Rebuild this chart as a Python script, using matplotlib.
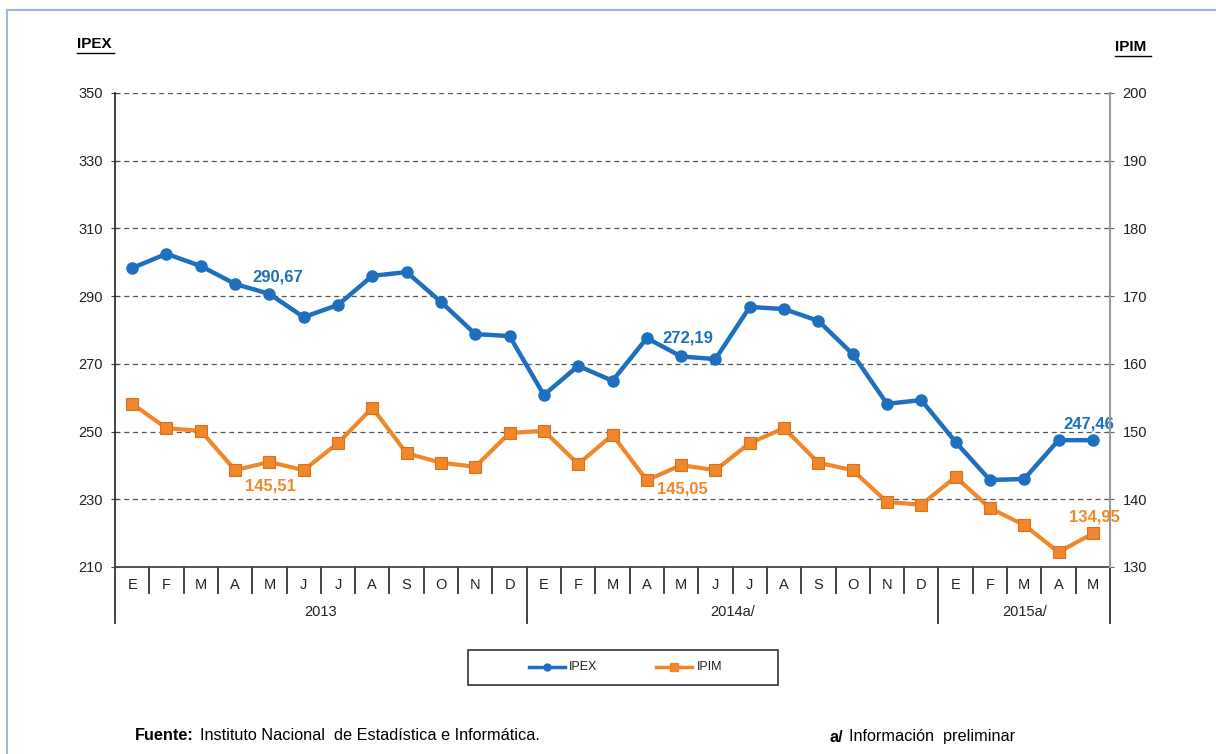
import matplotlib
matplotlib.use("Agg")
import matplotlib.pyplot as plt
from matplotlib.lines import Line2D
from matplotlib.patches import Rectangle
import numpy as np

plt.rcParams['font.family'] = ['Liberation Sans', 'DejaVu Sans']

months = ["E", "F", "M", "A", "M", "J", "J", "A", "S", "O", "N", "D",
          "E", "F", "M", "A", "M", "J", "J", "A", "S", "O", "N", "D",
          "E", "F", "M", "A", "M"]
years = ["2013", "2014a/", "2015a/"]
year_counts = [12, 12, 5]

ipex = [298.3, 302.5, 298.9, 293.6, 290.67, 283.8, 287.4, 296.0, 297.1, 288.3,
        278.8, 278.2, 260.8, 269.4, 265.0, 277.6, 272.19, 271.4, 286.8, 286.2,
        282.7, 272.9, 258.2, 259.3, 246.9, 235.7, 236.0, 247.46, 247.46]
ipim = [154.1, 150.5, 150.1, 144.3, 145.51, 144.3, 148.3, 153.5, 146.8, 145.4,
        144.8, 149.8, 150.1, 145.2, 149.5, 142.8, 145.05, 144.3, 148.3, 150.5,
        145.4, 144.3, 139.6, 139.2, 143.3, 138.7, 136.2, 132.2, 134.95]

left_ticks = [210, 230, 250, 270, 290, 310, 330, 350]
right_ticks = [130, 140, 150, 160, 170, 180, 190, 200]

ipex_labels = {4: "290,67", 16: "272,19", 28: "247,46"}
ipim_labels = {4: "145,51", 16: "145,05", 28: "134,95"}
# label offsets in points (dx, dy) relative to the data point
ipex_offsets = {4: (6, 12), 16: (5, 13), 28: (-3, 12)}
ipim_offsets = {4: (1, -17), 16: (1, -17), 28: (1, 12)}

BLUE = "#1F6FBF"
ORANGE = "#F0872A"

W, H = 1216, 754
fig = plt.figure(figsize=(W / 100, H / 100), dpi=100)
ax = fig.add_axes([115 / W, 1 - 567 / H, (1110 - 115) / W, (567 - 93) / H])
ax2 = ax.twinx()

x = np.arange(len(months))
n = len(months)

ax.set_xlim(-0.5, n - 0.5)
ax.set_ylim(210, 350)
ax2.set_ylim(130, 200)
ax.set_yticks(left_ticks)
ax2.set_yticks(right_ticks)
ax.set_xticks([])

for v in left_ticks[1:]:
    ax.axhline(v, color="#555555", lw=0.9, ls=(0, (4, 3)), zorder=0)

ax.plot(x, ipex, color=BLUE, lw=3.2, marker="o", ms=8, zorder=3, label="IPEX")
ax2.plot(x, ipim, color=ORANGE, lw=3.0, marker="s", ms=8.5, mfc=ORANGE,
         mec="#D9701A", mew=0.8, zorder=3, label="IPIM")

for i, t in ipex_labels.items():
    ax.annotate(t, (x[i], ipex[i]), xytext=ipex_offsets[i], textcoords="offset points",
                color=BLUE, fontsize=12, fontweight="bold", ha="center", va="center")
for i, t in ipim_labels.items():
    ax2.annotate(t, (x[i], ipim[i]), xytext=ipim_offsets[i], textcoords="offset points",
                 color=ORANGE, fontsize=12, fontweight="bold", ha="center", va="center")

for a in (ax, ax2):
    a.spines["top"].set_visible(False)
ax.spines["right"].set_visible(False)
ax2.spines["left"].set_visible(False)
ax2.spines["bottom"].set_visible(False)
ax.spines["left"].set_linestyle((0, (1, 1)))
ax.spines["left"].set_color("#222222")
ax.spines["left"].set_linewidth(1.2)
ax2.spines["right"].set_color("#999999")
ax2.spines["right"].set_linewidth(1.5)
ax.spines["bottom"].set_color("#444444")
ax.spines["bottom"].set_linewidth(1.3)

ax.tick_params(axis="y", direction="inout", length=6, color="#444444",
               labelsize=10.5, labelcolor="#222222", pad=6)
ax2.tick_params(axis="y", direction="inout", length=6, color="#666666",
                labelsize=10.5, labelcolor="#222222", pad=6)

# category axis
trans = ax.get_xaxis_transform()
ph = 567 - 93
sep_len = 26 / ph
yr_len = 56 / ph
for i, m in enumerate(months):
    ax.text(x[i], -18 / ph, m, transform=trans, ha="center", va="center",
            fontsize=10.5, color="#222222", clip_on=False)
bounds = [-0.5]
for c in year_counts:
    bounds.append(bounds[-1] + c)
for i in range(n + 1):
    xb = i - 0.5
    L = yr_len if xb in bounds else sep_len
    ax.add_line(Line2D([xb, xb], [0, -L], transform=trans, color="#333333",
                       lw=1.3, clip_on=False))
for k, yl in enumerate(years):
    xc = (bounds[k] + bounds[k + 1]) / 2
    ax.text(xc, -45 / ph, yl, transform=trans, ha="center", va="center",
            fontsize=10.5, color="#222222", clip_on=False)

# axis titles (underlined)
fig.text(77 / W, 1 - 44 / H, "IPEX", fontsize=11, fontweight="bold", ha="left", va="center")
fig.add_artist(Line2D([77 / W, 114 / W], [1 - 53 / H, 1 - 53 / H], color="black", lw=1.0))
fig.text(1115 / W, 1 - 47 / H, "IPIM", fontsize=11, fontweight="bold", ha="left", va="center")
fig.add_artist(Line2D([1115 / W, 1151 / W], [1 - 56 / H, 1 - 56 / H], color="black", lw=1.0))

# light blue outer frame
fig.add_artist(Line2D([7 / W, 1.0], [1 - 10 / H, 1 - 10 / H], color="#9DB5E0", lw=1.5))
fig.add_artist(Line2D([7 / W, 7 / W], [0, 1 - 10 / H], color="#9DB5E0", lw=1.5))

# legend box
fig.add_artist(Rectangle((468 / W, 1 - 685 / H), (778 - 468) / W, 35 / H,
                         transform=fig.transFigure, fill=False, ec="#333333", lw=1.2))
yl_ = 1 - 667 / H
fig.add_artist(Line2D([529 / W, 565 / W], [yl_, yl_], color=BLUE, lw=2.5))
fig.add_artist(Line2D([547 / W], [yl_], color=BLUE, marker="o", ms=5, lw=0))
fig.text(569 / W, yl_, "IPEX", fontsize=9, ha="left", va="center", color="#222222")
fig.add_artist(Line2D([656 / W, 692 / W], [yl_, yl_], color=ORANGE, lw=2.5))
fig.add_artist(Line2D([674 / W], [yl_], color=ORANGE, marker="s", ms=6, lw=0))
fig.text(697 / W, yl_, "IPIM", fontsize=9, ha="left", va="center", color="#222222")

# footer
fig.text(135 / W, 1 - 735 / H, "Fuente:", fontsize=11.7, fontweight="bold",
         ha="left", va="center")
fig.text(200 / W, 1 - 735 / H, "Instituto Nacional  de Estadística e Informática.",
         fontsize=11.7, ha="left", va="center")
fig.text(830 / W, 1 - 737 / H, "a/", fontsize=11.7, fontweight="bold", ha="left", va="center")
fig.text(849 / W, 1 - 737 / H, "Información  preliminar", fontsize=11.7, ha="left", va="center")

fig.savefig("out.png", dpi=100)
